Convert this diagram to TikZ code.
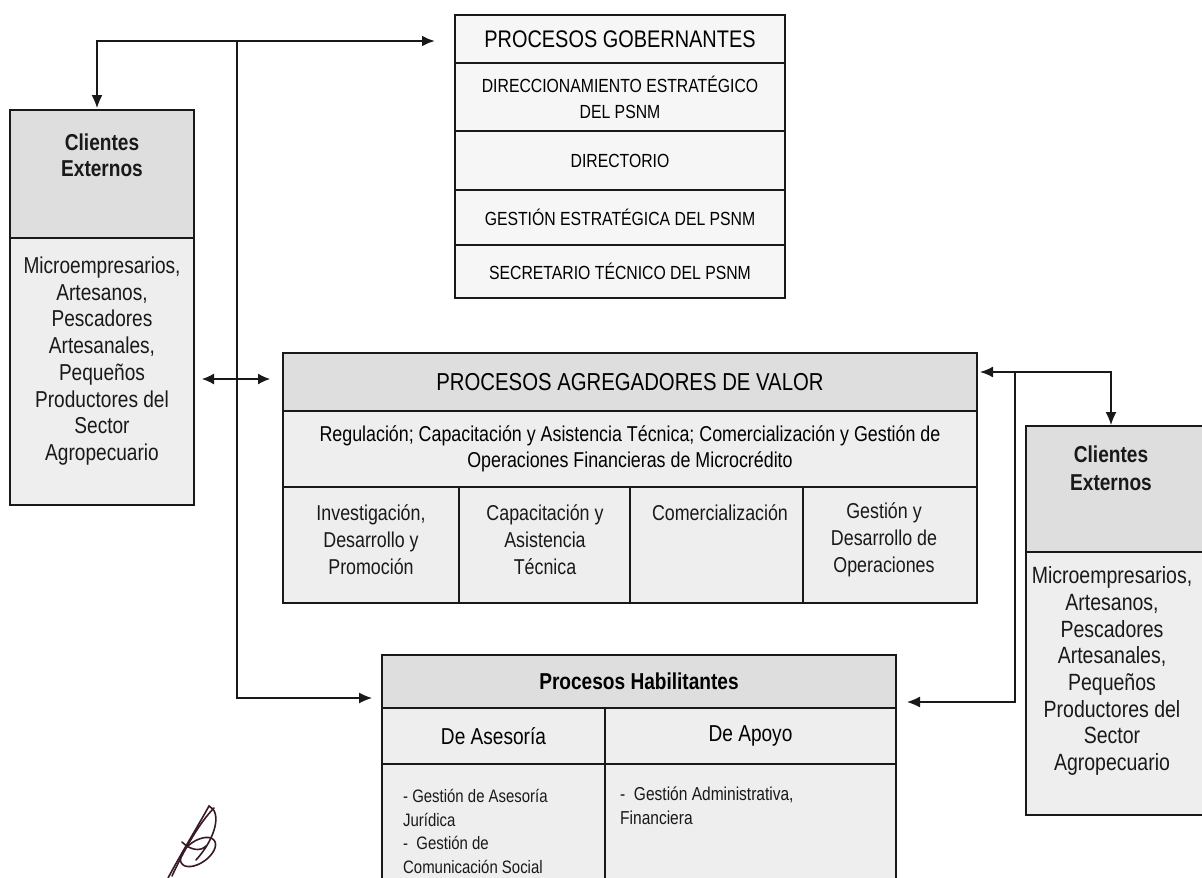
\documentclass[tikz,border=0pt]{standalone}
\usepackage{fontspec}
\setmainfont{Liberation Sans}[FakeStretch=0.83]
\usetikzlibrary{arrows.meta,calc}
\definecolor{hdrgray}{RGB}{222,222,222}
\definecolor{bodygray}{RGB}{238,238,238}
\definecolor{topgray}{RGB}{246,246,246}
\definecolor{ink}{RGB}{25,25,25}
\definecolor{sigcol}{RGB}{55,25,40}
\newcommand{\myfs}[2]{\fontsize{#1}{#2}\selectfont}
\begin{document}
\begin{tikzpicture}[x=1pt,y=-1pt,
  cell/.style={draw=ink, line width=1.5pt, anchor=north west, inner sep=0pt, outer sep=0pt, align=center},
  hdr/.style={cell, fill=hdrgray},
  bdy/.style={cell, fill=bodygray},
  tcell/.style={cell, fill=topgray},
  txt/.style={align=center, inner sep=0pt, text=ink},
  arr/.style={draw=ink, line width=1.3pt, -{Latex[length=13pt,width=11pt]}},
  dbl/.style={draw=ink, line width=1.3pt, {Latex[length=12pt,width=11pt]}-{Latex[length=12pt,width=11pt]}},
  sig/.style={draw=sigcol, line width=1.6pt, line cap=round}
]
\useasboundingbox (0,0) rectangle (1202,878);
\fill[white] (0,0) rectangle (1202,878);
\clip (0,0) rectangle (1202,878);

% ---------- Procesos gobernantes ----------
\node[tcell, minimum width=330pt, minimum height=48pt, font=\myfs{24}{28}] (g0) at (455,15) {PROCESOS GOBERNANTES};
\node[tcell, minimum width=330pt, minimum height=68pt, font=\myfs{19}{26}] (g1) at (455,63) {DIRECCIONAMIENTO ESTRATÉGICO\\DEL PSNM};
\node[tcell, minimum width=330pt, minimum height=59pt, font=\myfs{19}{26}] (g2) at (455,131) {DIRECTORIO};
\node[tcell, minimum width=330pt, minimum height=55pt, font=\myfs{19}{26}] (g3) at (455,190) {GESTIÓN ESTRATÉGICA DEL PSNM};
\node[tcell, minimum width=330pt, minimum height=53pt, font=\myfs{19}{26}] (g4) at (455,245) {SECRETARIO TÉCNICO DEL PSNM};

% ---------- Clientes externos (izquierda) ----------
\node[hdr, minimum width=184pt, minimum height=128pt] (l0) at (10,110) {};
\node[bdy, minimum width=184pt, minimum height=267pt] (l1) at (10,238) {};
\node[txt, font=\bfseries\myfs{23}{26}] (l0t) at (102,155) {Clientes\\Externos};
\node[txt, font=\myfs{23}{26.7}] (l1t) at (102,361) {Microempresarios,\\Artesanos,\\Pescadores\\Artesanales,\\Pequeños\\Productores del\\Sector\\Agropecuario};

% ---------- Clientes externos (derecha) ----------
\node[hdr, minimum width=182pt, minimum height=126pt] (r0) at (1026,426) {};
\node[bdy, minimum width=182pt, minimum height=263pt] (r1) at (1026,552) {};
\node[txt, font=\bfseries\myfs{23}{28}] (r0t) at (1111,468) {Clientes\\Externos};
\node[txt, font=\myfs{23.5}{26.7}] (r1t) at (1112,671) {Microempresarios,\\Artesanos,\\Pescadores\\Artesanales,\\Pequeños\\Productores del\\Sector\\Agropecuario};

% ---------- Procesos agregadores de valor ----------
\node[hdr, minimum width=694pt, minimum height=58pt, font=\myfs{24.5}{28}] (m0) at (283,353) {PROCESOS AGREGADORES DE VALOR};
\node[bdy, minimum width=694pt, minimum height=76pt, font=\myfs{21.5}{26}] (m1) at (283,411) {Regulación; Capacitación y Asistencia Técnica; Comercialización y Gestión de\\Operaciones Financieras de Microcrédito};
\node[bdy, minimum width=176pt, minimum height=116pt] (m2a) at (283,487) {};
\node[bdy, minimum width=171pt, minimum height=116pt] (m2b) at (459,487) {};
\node[bdy, minimum width=173pt, minimum height=116pt] (m2c) at (630,487) {};
\node[bdy, minimum width=174pt, minimum height=116pt] (m2d) at (803,487) {};
\node[txt, font=\myfs{21.5}{27}] (m2at) at (371,540) {Investigación,\\Desarrollo y\\Promoción};
\node[txt, font=\myfs{21.5}{27}] (m2bt) at (545,540) {Capacitación y\\Asistencia\\Técnica};
\node[txt, font=\myfs{21.5}{27}] (m2ct) at (720,513) {Comercialización};
\node[txt, font=\myfs{21.5}{27}] (m2dt) at (884,540) {Gestión y\\Desarrollo de\\Operaciones};

% ---------- Procesos habilitantes ----------
\node[hdr, minimum width=514pt, minimum height=53pt, font=\bfseries\myfs{23}{26}] (b0) at (382,655) {Procesos Habilitantes};
\node[bdy, minimum width=223pt, minimum height=56pt, font=\myfs{23}{26}] (b1a) at (382,708) {De Asesoría};
\node[bdy, minimum width=291pt, minimum height=56pt, font=\myfs{23}{26}] (b1b) at (605,708) {De Apoyo};
\node[bdy, minimum width=223pt, minimum height=130pt] (b2a) at (382,764) {};
\node[bdy, minimum width=291pt, minimum height=130pt] (b2b) at (605,764) {};
\node[txt, align=left, anchor=north west, font=\myfs{18}{23.7}] (b2at) at (403,789) {- Gestión de Asesoría\\Jurídica\\-\ \ Gestión de\\Comunicación Social};
\node[txt, align=left, anchor=north west, font=\myfs{18.7}{23.5}] (b2bt) at (620,787) {-\ \ Gestión Administrativa,\\Financiera};

% ---------- Conectores ----------
\coordinate (jL) at (237,41);
\coordinate (jR) at (1015,372);
\draw[arr, shorten >=2pt] (jL) -| ([xshift=-5pt]l0.north);
\draw[arr, line width=2.4pt, shorten >=20pt] (jL) -- (jL -| g0.west);
\draw[arr, shorten >=10pt] (jL) |- ($(b0.south west)+(0,-10)$);
\draw[dbl, shorten <=8pt, shorten >=13pt] ($(l1.east |- m0.west)+(0,-3)$) -- ($(m0.west)+(0,-3)$);
\draw[arr, line width=1.8pt, shorten >=3pt] (jR) -- (jR -| m0.east);
\draw[arr, shorten >=1pt] (jR) -| ([xshift=-6pt]r0.north);
\draw[arr, shorten >=11pt] (jR) |- ($(b0.south east)+(0,-6)$);

% ---------- Firma ----------
\draw[sig] (168,878) .. controls (182,852) and (198,826) .. (209,806)
           .. controls (222,812) and (216,838) .. (196,860);
\draw[sig] (172,876) .. controls (185,848) and (200,822) .. (214,808);
\draw[sig, rotate around={35:(198,852)}] (198,852) ellipse (20pt and 11pt);
\draw[sig] (182,842) .. controls (190,850) and (200,852) .. (206,846);
\end{tikzpicture}
\end{document}
